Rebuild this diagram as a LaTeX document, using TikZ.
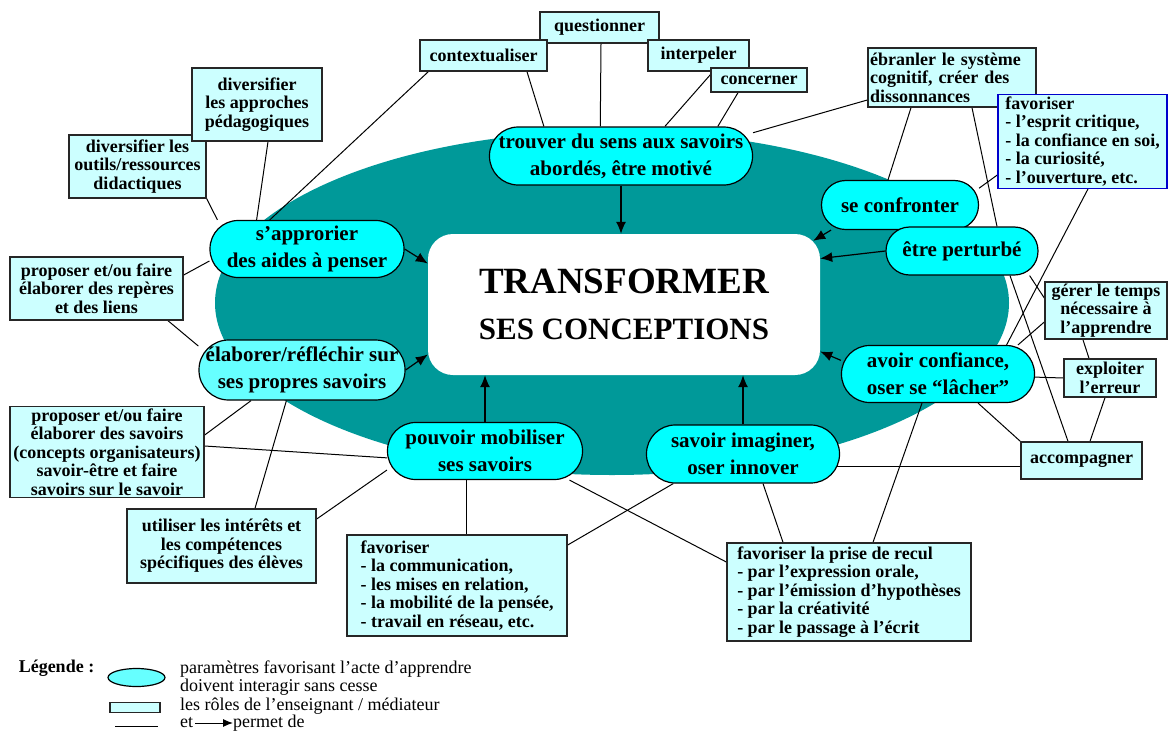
\documentclass[tikz,border=0pt]{standalone}
\usepackage{fontspec}
\setmainfont{Liberation Serif}
\usetikzlibrary{shapes.geometric,arrows.meta}
\pgfdeclarelayer{background}
\pgfdeclarelayer{foreground}
\pgfsetlayers{background,main,foreground}
\definecolor{fondteal}{RGB}{0,153,153}
\definecolor{paramcyan}{RGB}{0,255,255}
\definecolor{paramclair}{RGB}{102,255,255}
\definecolor{rolecyan}{RGB}{204,255,255}
\definecolor{cadrebleu}{RGB}{0,0,204}

\begin{document}
\begin{tikzpicture}[x=1pt,y=-1pt,
  parametre/.style={rectangle,draw=black,line width=1.2pt,fill=paramcyan,align=center,inner sep=2pt,font=\fontsize{21}{27}\selectfont\bfseries},
  role/.style={rectangle,draw=black!85,line width=1.4pt,fill=rolecyan,align=center,inner sep=2pt,font=\fontsize{18}{18.5}\selectfont\bfseries},
  lien/.style={draw=black,line width=1pt},
  fleche/.style={draw=black,line width=1.2pt,-{Latex[length=12pt,width=10pt]}},
  legtexte/.style={anchor=west,inner sep=0pt,align=left,font=\fontsize{18}{16}\selectfont}]
\useasboundingbox (0,0) rectangle (1170,734);
\begin{pgfonlayer}{background}
\fill[fondteal] (612,303) ellipse [x radius=397pt, y radius=172pt];
\node[fill=white,rounded corners=25pt,minimum width=392pt,minimum height=141pt,align=center,font=\fontsize{37}{46}\selectfont\bfseries] (cible) at (624,304.5) {TRANSFORMER\\{\fontsize{31}{46}\selectfont SES CONCEPTIONS}};
\end{pgfonlayer}
\begin{pgfonlayer}{foreground}
\node[parametre,minimum width=263pt,minimum height=58pt,rounded corners=28.7pt] (sens) at (621,156) {trouver du sens aux savoirs\\abordés, être motivé};
\node[parametre,minimum width=194pt,minimum height=57pt,rounded corners=28.2pt] (aides) at (307,249) {s’approrier\\des aides à penser};
\node[parametre,fill=paramclair,minimum width=206pt,minimum height=60pt,rounded corners=29.7pt] (reflechir) at (302,370) {élaborer/réfléchir sur\\ses propres savoirs};
\node[parametre,minimum width=195pt,minimum height=57pt,rounded corners=28.2pt] (mobiliser) at (485,451) {pouvoir mobiliser\\ses savoirs};
\node[parametre,minimum width=193pt,minimum height=58pt,rounded corners=28.7pt] (imaginer) at (743,454) {savoir imaginer,\\oser innover};
\node[parametre,minimum width=157pt,minimum height=49pt,rounded corners=24.2pt] (confronter) at (900,205) {se confronter};
\node[parametre,minimum width=152pt,minimum height=48pt,rounded corners=23.7pt] (perturbe) at (962,251) {être perturbé};
\node[parametre,minimum width=193pt,minimum height=57pt,rounded corners=28.2pt] (confiance) at (938,374) {avoir confiance,\\oser se “lâcher”};

\node[role,minimum width=119pt,minimum height=31pt] (quest) at (599.5,27.5) {questionner};
\node[role,minimum width=127pt,minimum height=31pt] (ctx) at (483.5,55.5) {contextualiser};
\node[role,minimum width=101pt,minimum height=31pt] (interp) at (698.5,55.5) {interpeler};
\node[role,minimum width=96pt,minimum height=24pt] (concern) at (759,80) {concerner};
\node[role,align=left,text width=164pt,minimum width=168pt,minimum height=59pt] (ebranler) at (952,77.5) {ébranler le système\\cognitif, créer des\\dissonnances};
\node[role,draw=cadrebleu,align=left,minimum width=169pt,minimum height=93pt] (esprit) at (1082.5,141.5) {favoriser\\- l’esprit critique,\\- la confiance en soi,\\- la curiosité,\\- l’ouverture, etc.};
\node[role,minimum width=137pt,minimum height=63pt] (outils) at (137.5,166.5) {diversifier les\\outils/ressources\\didactiques};
\node[role,minimum width=130pt,minimum height=73pt] (approches) at (257,104.5) {diversifier\\les approches\\pédagogiques};
\node[role,minimum width=173pt,minimum height=63pt] (reperes) at (96.5,288.5) {proposer et/ou faire\\élaborer des repères\\et des liens};
\node[role,minimum width=194pt,minimum height=90pt] (savoirs) at (107,452) {proposer et/ou faire\\élaborer des savoirs\\(concepts organisateurs)\\savoir-être et faire\\savoirs sur le savoir};
\node[role,minimum width=189pt,minimum height=74pt] (interets) at (221.5,546) {utiliser les intérêts et\\les compétences\\spécifiques des élèves};
\node[role,align=left,minimum width=220pt,minimum height=101pt] (commun) at (457,585.5) {favoriser\\- la communication,\\- les mises en relation,\\- la mobilité de la pensée,\\- travail en réseau, etc.};
\node[role,align=left,minimum width=244pt,minimum height=98pt] (recul) at (849,592) {favoriser la prise de recul\\- par l’expression orale,\\- par l’émission d’hypothèses\\- par la créativité\\- par le passage à l’écrit};
\node[role,minimum width=121pt,minimum height=37pt] (accomp) at (1081.5,460.5) {accompagner};
\node[role,minimum width=122pt,minimum height=57pt] (temps) at (1106,310.5) {gérer le temps\\nécessaire à\\l’apprendre};
\node[role,minimum width=92pt,minimum height=38pt] (erreur) at (1110,378) {exploiter\\l’erreur};
\end{pgfonlayer}

\draw[lien] ([xshift=43.5pt]ctx.south) -- (sens.159);
\draw[lien] ([xshift=1.5pt]quest.south) -- (sens.125);
\draw[lien] ([xshift=14.5pt]interp.south) -- (sens.34);
\draw[lien] ([xshift=-21pt]concern.south) -- (sens.17);
\draw[lien] ([yshift=-22.5pt]ebranler.west) -- (sens.10);
\draw[lien] ([xshift=9pt]ctx.south west) -- (aides.142);
\draw[lien] ([xshift=11pt]approches.south) -- (aides.150);
\draw[lien] (outils.south east) -- (aides.162);
\draw[lien] ([yshift=13.5pt]reperes.east) -- (aides.187);
\draw[lien] ([xshift=71.5pt]reperes.south) -- (reflechir.167);
\draw[lien] ([yshift=17pt]savoirs.east) -- (reflechir.211);
\draw[lien] ([yshift=6pt]savoirs.east) -- (mobiliser.184);
\draw[lien] ([xshift=33.5pt]interets.north) -- (reflechir.243);
\draw[lien] ([yshift=27pt]interets.east) -- (mobiliser.191);
\draw[lien] ([xshift=9pt]commun.north) -- ([xshift=-19pt]mobiliser.south);
\draw[lien] ([yshift=30pt]recul.west) -- (mobiliser.341);
\draw[lien] ([yshift=40.5pt]commun.east) -- (imaginer.203);
\draw[lien] ([xshift=-66pt]recul.north) -- ([xshift=20pt]imaginer.south);
\draw[lien] ([xshift=24pt]recul.north) -- ([xshift=-16pt]confiance.south);
\draw[lien] ([yshift=-6pt]accomp.west) -- ([yshift=-6pt]accomp.west -| imaginer.center);
\draw[lien] ([xshift=-41pt]ebranler.south) -- ([xshift=-12pt]confronter.north);
\draw[lien] ([xshift=20pt]ebranler.south) -- ([xshift=35pt]perturbe.north);
\draw[lien] ([yshift=-33.5pt]esprit.west) -- (confronter.12);
\draw[lien] ([xshift=5.5pt]esprit.south) -- (confiance.23);
\draw[lien] ([yshift=12.5pt]temps.west) -- (perturbe.340);
\draw[lien] ([yshift=-11.5pt]temps.west) -- (confiance.20);
\draw[lien] ([xshift=-13.5pt]accomp.north) -- ([xshift=48pt]perturbe.south);
\draw[lien] (accomp.north west) -- (confiance.324);
\draw[lien] (erreur.west) -- (confiance);
\draw[lien] ([xshift=-23pt]temps.south) -- ([xshift=-21pt]erreur.north);
\draw[lien] ([xshift=-5pt]erreur.south) -- ([xshift=8.5pt]accomp.north);

\draw[fleche] (sens.south) -- (sens.south |- cible.north);
\draw[fleche] (aides.east) -- ([yshift=41pt]cible.west);
\draw[fleche] (reflechir.east) -- ([yshift=-50pt]cible.west);
\draw[fleche] (mobiliser.north) -- (mobiliser.north |- cible.south);
\draw[fleche] (imaginer.north) -- (imaginer.north |- cible.south);
\draw[fleche] (confronter.200) -- ([xshift=-7pt,yshift=-7pt]cible.north east);
\draw[fleche] (perturbe.west) -- ([yshift=46pt]cible.east);
\draw[fleche] (confiance.172) -- ([yshift=-47pt]cible.east);

\node[font=\fontsize{18}{18}\selectfont\bfseries] (legende) at (56.5,668) {Légende :};
\node[ellipse,draw=black,line width=1.2pt,fill=paramclair,minimum width=57pt,minimum height=18pt,inner sep=0pt] (legovale) at (136.5,677.5) {};
\node[legtexte] (legparam) at (180,678) {paramètres favorisant l’acte d’apprendre\\doivent interagir sans cesse};
\node[role,minimum width=50pt,minimum height=10pt,inner sep=0pt] (legrole) at (135,707.5) {};
\node[legtexte] (legroletexte) at (180,706) {les rôles de l’enseignant / médiateur};
\coordinate (legliena) at (115,726);
\coordinate (leglienb) at (158,726);
\draw[lien] (legliena) -- (leglienb);
\node[legtexte] (leget) at (180,723) {et};
\node[legtexte] (legpermet) at (233,723) {permet de};
\draw[lien,-{Latex[length=10pt,width=8pt]}] ([xshift=2pt]leget.east) -- (legpermet.west);
\end{tikzpicture}
\end{document}
